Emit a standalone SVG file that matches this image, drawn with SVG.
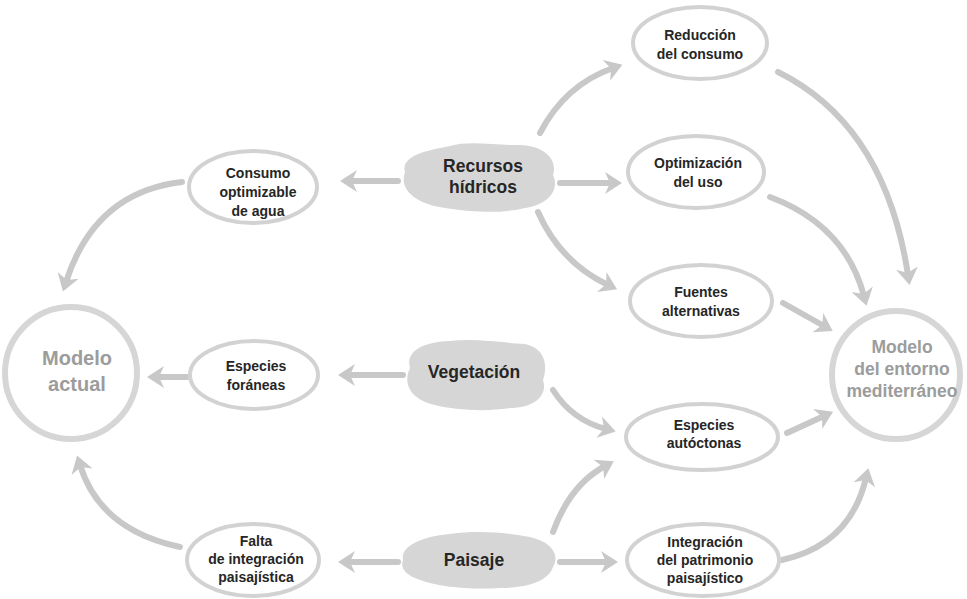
<svg xmlns="http://www.w3.org/2000/svg" width="967" height="599" viewBox="0 0 967 599">
<style>
.bg{fill:#ffffff}
.big{fill:none;stroke:#d6d6d6;stroke-width:6}
.bigt{font-family:"Liberation Sans",Arial,sans-serif;font-weight:bold;fill:#9c9c9c;text-anchor:middle}
.ell{fill:#ffffff;stroke:#d2d2d2;stroke-width:4}
.blob{fill:#d6d6d6}
.t{font-family:"Liberation Sans",Arial,sans-serif;font-weight:bold;font-size:14px;fill:#262626;text-anchor:middle}
.tb{font-family:"Liberation Sans",Arial,sans-serif;font-weight:bold;font-size:17.5px;fill:#262626;text-anchor:middle}
.c{fill:none;stroke:#c8c8c8;stroke-width:6;stroke-linecap:round;marker-end:url(#ah)}
</style>
<defs>
<marker id="ah" markerUnits="userSpaceOnUse" markerWidth="32" markerHeight="32" viewBox="-16 -16 32 32" refX="0" refY="0" orient="auto">
<path d="M10,0 L-7,-11 L-2,0 L-7,11 Z" fill="#c8c8c8"/>
</marker>
</defs>
<rect class="bg" x="0" y="0" width="967" height="599"/>

<g id="connectors">
<path class="c" d="M398,181 L350,181"/>
<path class="c" d="M182,182 Q95,192 66,282"/>
<path class="c" d="M540,133 Q565,85 613,68"/>
<path class="c" d="M560,183 L612,183"/>
<path class="c" d="M538,212 Q560,262 608,285"/>
<path class="c" d="M778,72 Q885,125 908,275"/>
<path class="c" d="M770,197 Q845,225 864,296"/>
<path class="c" d="M783,303 L824,326"/>
<path class="c" d="M403,375 L348,375"/>
<path class="c" d="M187,377 L157,377"/>
<path class="c" d="M553,390 Q572,420 606,429"/>
<path class="c" d="M553,532 Q570,485 605,466"/>
<path class="c" d="M787,433 L824,416"/>
<path class="c" d="M782,560 Q850,545 866,478"/>
<path class="c" d="M398,562 L348,562"/>
<path class="c" d="M560,562 L608,562"/>
<path class="c" d="M180,547 Q100,530 80,465"/>
</g>

<g id="modelo-actual">
<circle class="big" cx="71" cy="373" r="66"/>
<text class="bigt" font-size="20" x="77" y="365">Modelo</text>
<text class="bigt" font-size="20" x="77" y="391">actual</text>
</g>

<g id="modelo-mediterraneo">
<circle class="big" cx="896" cy="375" r="64"/>
<text class="bigt" font-size="17.5" x="902" y="353">Modelo</text>
<text class="bigt" font-size="17.5" x="902" y="375">del entorno</text>
<text class="bigt" font-size="17.5" x="902" y="397">mediterráneo</text>
</g>

<g id="recursos-hidricos">
<path class="blob" d="M405,172 C400,155 430,150 450,146 C470,140 500,146 520,145 C545,146 558,160 553,175 C560,190 548,205 525,208 C500,214 470,212 445,208 C420,205 398,192 405,172 Z"/>
<text class="tb" x="483" y="172">Recursos</text>
<text class="tb" x="483" y="193">hídricos</text>
</g>

<g id="vegetacion">
<path class="blob" d="M410,368 C405,350 425,342 450,341 C475,338 505,343 525,344 C545,348 548,365 543,380 C548,395 535,408 510,408 C485,412 455,410 435,405 C412,400 402,385 410,368 Z"/>
<text class="tb" x="474" y="378">Vegetación</text>
</g>

<g id="paisaje">
<path class="blob" d="M403,560 C400,545 425,536 450,534 C478,530 510,533 530,537 C552,542 560,555 553,567 C548,582 525,588 500,588 C470,590 440,587 420,580 C405,575 400,568 403,560 Z"/>
<text class="tb" x="474" y="566">Paisaje</text>
</g>

<g id="reduccion-consumo">
<ellipse class="ell" cx="700" cy="43" rx="67" ry="36"/>
<text class="t" x="700" y="40">Reducción</text>
<text class="t" x="700" y="59">del consumo</text>
</g>

<g id="consumo-optimizable">
<ellipse class="ell" cx="253" cy="187" rx="64" ry="36"/>
<text class="t" x="258" y="178">Consumo</text>
<text class="t" x="258" y="197">optimizable</text>
<text class="t" x="258" y="216">de agua</text>
</g>

<g id="optimizacion-uso">
<ellipse class="ell" cx="696" cy="172" rx="68" ry="36"/>
<text class="t" x="698" y="168">Optimización</text>
<text class="t" x="698" y="187">del uso</text>
</g>

<g id="fuentes-alternativas">
<ellipse class="ell" cx="701" cy="301" rx="71" ry="36"/>
<text class="t" x="701" y="297">Fuentes</text>
<text class="t" x="701" y="316">alternativas</text>
</g>

<g id="especies-foraneas">
<ellipse class="ell" cx="254" cy="375" rx="64" ry="34"/>
<text class="t" x="256" y="371">Especies</text>
<text class="t" x="256" y="390">foráneas</text>
</g>

<g id="especies-autoctonas">
<ellipse class="ell" cx="702" cy="437" rx="76" ry="33"/>
<text class="t" x="704" y="430">Especies</text>
<text class="t" x="704" y="448">autóctonas</text>
</g>

<g id="falta-integracion">
<ellipse class="ell" cx="253" cy="560" rx="66" ry="36"/>
<text class="t" x="256" y="546">Falta</text>
<text class="t" x="256" y="564">de integración</text>
<text class="t" x="256" y="582">paisajística</text>
</g>

<g id="integracion-patrimonio">
<ellipse class="ell" cx="703" cy="560" rx="76" ry="36"/>
<text class="t" x="705" y="547">Integración</text>
<text class="t" x="705" y="565">del patrimonio</text>
<text class="t" x="705" y="583">paisajístico</text>
</g>
</svg>
